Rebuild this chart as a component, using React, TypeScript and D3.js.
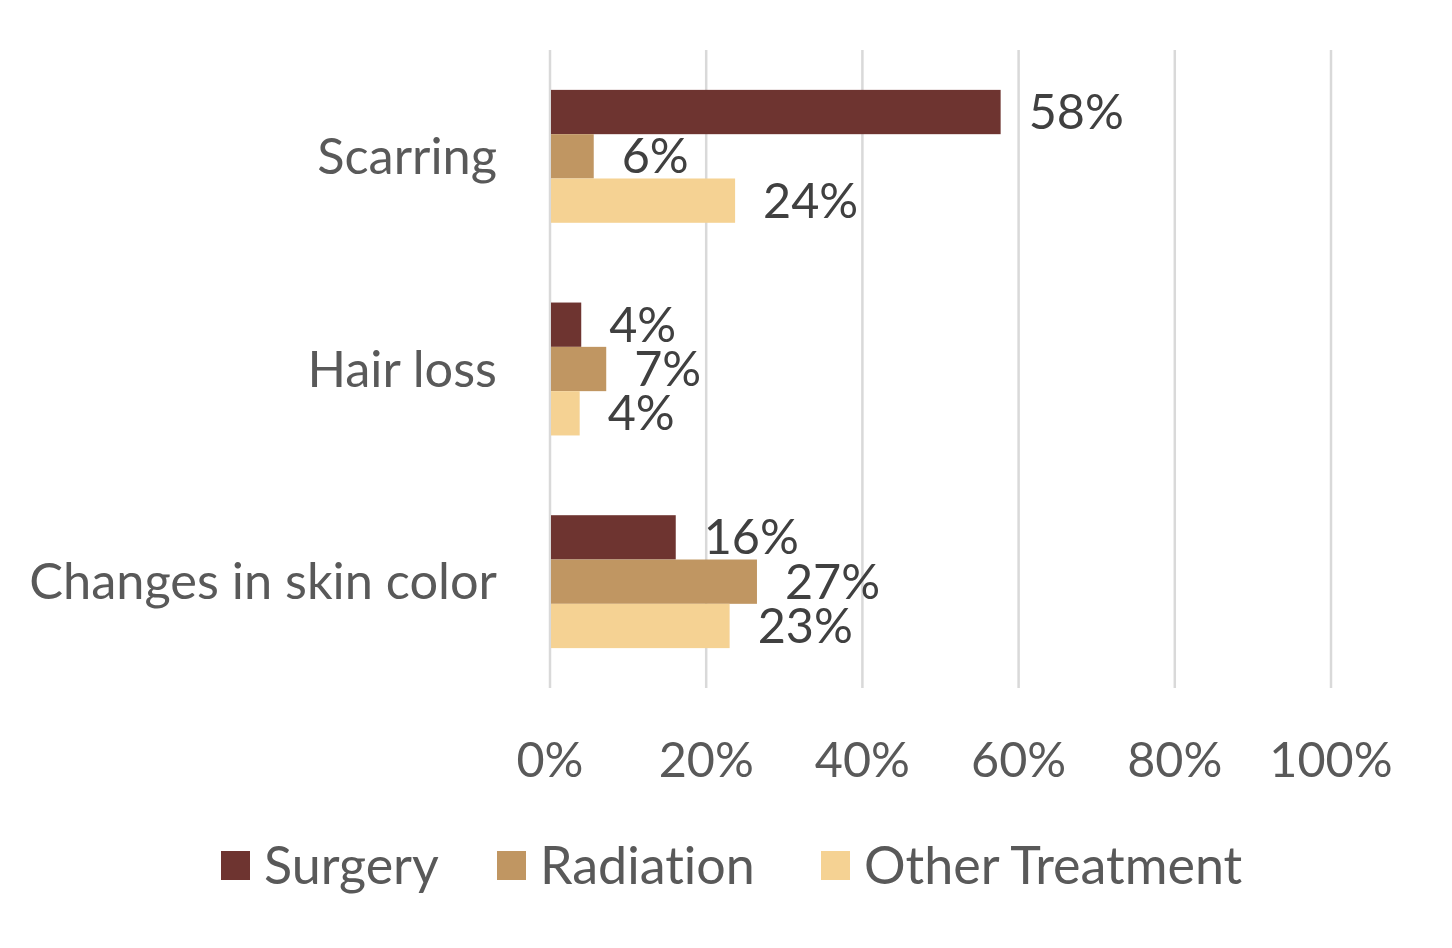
import { useEffect, useRef } from 'react';
import * as d3 from 'd3';

const categories = ["Scarring", "Hair loss", "Changes in skin color"];
const seriesNames = ["Surgery", "Radiation", "Other Treatment"];
const seriesColors = ["#6E3430", "#C09662", "#F5D293"];
// bar lengths; labels show them rounded
const surgery = [57.7, 4.0, 16.1];
const radiation = [5.6, 7.2, 26.5];
const otherTreatment = [23.7, 3.8, 23.0];
const xTicks = [0, 20, 40, 60, 80, 100];

const FONT = "Lato, 'Open Sans', sans-serif";

export default function App() {
  const svgRef = useRef<SVGSVGElement>(null);

  useEffect(() => {
    if (!svgRef.current) return;
    const svg = d3.select(svgRef.current);
    svg.selectAll("*").remove();

    const width = 1452;
    const height = 948;
    svg.attr("width", width).attr("height", height)
      .style("font-variant-ligatures", "none");

    const values = [surgery, radiation, otherTreatment];
    const pct = (d: number) => `${Math.round(d)}%`;

    const x = d3.scaleLinear().domain([0, 100]).range([550, 1331]);
    const y = d3.scaleBand<string>()
      .domain(categories)
      .range([50, 688])
      .paddingInner(0.375)
      .paddingOuter(0.1875);
    const ySub = d3.scaleBand<number>()
      .domain(d3.range(seriesNames.length))
      .range([0, y.bandwidth()]);

    // Gridlines
    svg.append("g")
      .selectAll("line")
      .data(xTicks)
      .join("line")
      .attr("x1", d => x(d))
      .attr("x2", d => x(d))
      .attr("y1", 50)
      .attr("y2", 688)
      .attr("stroke", "#D9D9D9")
      .attr("stroke-width", 2.5);

    // Tick labels
    svg.append("g")
      .selectAll("text")
      .data(xTicks)
      .join("text")
      .attr("x", d => x(d))
      .attr("y", 777)
      .attr("text-anchor", "middle")
      .attr("font-family", FONT)
      .attr("font-size", 48.5)
      .attr("fill", "#595959")
      .text(d => `${d}%`);

    // Category labels
    svg.append("g")
      .selectAll("text")
      .data(categories)
      .join("text")
      .attr("x", 497)
      .attr("y", d => (y(d) ?? 0) + y.bandwidth() / 2)
      .attr("dy", "0.35em")
      .attr("text-anchor", "end")
      .attr("font-family", FONT)
      .attr("font-size", 50.5)
      .attr("fill", "#595959")
      .text(d => d);

    // Bars and labels
    values.forEach((vals, si) => {
      const g = svg.append("g");
      g.selectAll("rect")
        .data(vals)
        .join("rect")
        .attr("x", x(0) + 1)
        .attr("y", (_, i) => (y(categories[i]) ?? 0) + (ySub(si) ?? 0))
        .attr("width", d => x(d) - x(0) - 1)
        .attr("height", ySub.bandwidth())
        .attr("fill", seriesColors[si]);

      g.selectAll("text")
        .data(vals)
        .join("text")
        .attr("x", d => x(d) + 28)
        .attr("y", (_, i) => (y(categories[i]) ?? 0) + (ySub(si) ?? 0) + ySub.bandwidth() / 2)
        .attr("dy", "0.35em")
        .attr("font-family", FONT)
        .attr("font-size", 48.5)
        .attr("fill", "#404040")
        .text(d => pct(d));
    });

    // Legend
    const legendX = [221, 497, 821];
    const legend = svg.append("g");
    seriesNames.forEach((name, i) => {
      legend.append("rect")
        .attr("x", legendX[i])
        .attr("y", 851)
        .attr("width", 29)
        .attr("height", 29)
        .attr("fill", seriesColors[i]);
      legend.append("text")
        .attr("x", legendX[i] + 43)
        .attr("y", 866)
        .attr("dy", "0.35em")
        .attr("font-family", FONT)
        .attr("font-size", 52)
        .attr("fill", "#595959")
        .text(name);
    });
  }, []);

  return (
    <div style={{ margin: -8 }}>
      <svg ref={svgRef} style={{ display: "block" }} />
    </div>
  );
}
